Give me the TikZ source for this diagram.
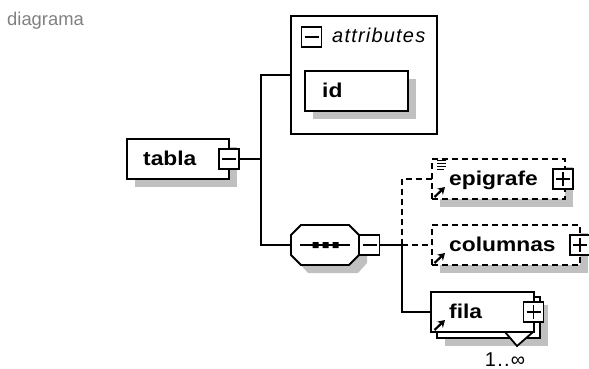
\documentclass[tikz,border=0pt]{standalone}
\usepackage{fontspec}
\setmainfont{Liberation Sans}
\newfontfamily\elemfont[FakeStretch=1.14]{Liberation Sans}
\usetikzlibrary{arrows.meta}
\definecolor{shadowgray}{HTML}{C0C0C0}
\definecolor{captiongray}{HTML}{808080}
\tikzset{
  line/.style={draw=black,line width=1.8pt},
  dashline/.style={line,dash pattern=on 6pt off 4pt},
  shadowed/.style={preaction={draw=none,fill=shadowgray,transform canvas={xshift=8pt,yshift=-8pt}}},
  box/.style={line,fill=white,rectangle,inner sep=0pt,anchor=north west,outer sep=0pt},
  shbox/.style={box,shadowed},
  dashbox/.style={shbox,dash pattern=on 6pt off 4pt},
  toggle/.style={line,fill=white,rectangle,inner sep=0pt,outer sep=0pt,minimum width=20pt,minimum height=20pt,anchor=center},
  togminus/.style={toggle,path picture={\draw[line width=1.4pt] ([xshift=3pt]path picture bounding box.west) -- ([xshift=-3pt]path picture bounding box.east);}},
  togplus/.style={togminus,path picture={\draw[line width=1.4pt] ([xshift=3pt]path picture bounding box.west) -- ([xshift=-3pt]path picture bounding box.east) ([yshift=-3pt]path picture bounding box.north) -- ([yshift=3pt]path picture bounding box.south);}},
  elemtext/.style={font=\elemfont\fontsize{20}{20}\selectfont\bfseries,anchor=base west,inner sep=0pt},
  smalltext/.style={anchor=base west,inner sep=0pt},
  refarrow/.style={line width=2.2pt,-{Stealth[length=7pt,width=8.5pt]}},
}
\begin{document}
\begin{tikzpicture}[x=1pt,y=-1pt]
\useasboundingbox (0,0) rectangle (589,369);
\node[smalltext,text=captiongray,font=\fontsize{18.4}{18.4}\selectfont] (cap) at (7,26) {diagrama};
% junctions
\coordinate (j1) at (261,159);
\coordinate (j2) at (402,245);
% attributes
\node[box,minimum width=146pt,minimum height=118pt] (attrs) at (291,16) {};
\node[togminus] (togA) at (311.5,37) {};
\node[smalltext,font=\fontsize{20}{20}\addfontfeature{LetterSpace=6}\selectfont\itshape] (attrlabel) at (332,43) {attributes};
\node[shbox,minimum width=103pt,minimum height=40pt] (idbox) at (305,71) {};
\node[elemtext] (idlabel) at (322,97) {id};
% tabla
\node[shbox,minimum width=102pt,minimum height=40pt] (tabla) at (127,139) {};
\node[elemtext] (tablalabel) at (143,165) {tabla};
\node[togminus] (togT) at (229,159) {};
% sequence
\path[fill=shadowgray] (308,233) -- (358,233) -- (367,243) -- (367,263) -- (358,273) -- (308,273) -- (299,263) -- cycle;
\node[minimum width=68pt,minimum height=40pt,inner sep=0pt,outer sep=0pt] (seq) at (325,245) {};
\draw[line,fill=white] (seq.west) -- ++(0,-10) -- ++(10,-10) -- ++(48,0) -- ++(10,10) -- ++(0,20) -- ++(-10,10) -- ++(-48,0) -- ++(-10,-10) -- cycle;
\draw[line width=1.4pt] (300,245) -- (350,245);
\fill (312.5,242) rectangle +(6,6) (322.5,242) rectangle +(6,6) (332.5,242) rectangle +(6,6);
\node[togminus] (togS) at (369.5,245) {};
% epigrafe
\node[dashbox,minimum width=133pt,minimum height=40pt] (epi) at (432,159) {};
\node[elemtext] (epilabel) at (449,185) {epigrafe};
\node[togplus] (togE) at (563,179) {};
\draw[line width=1pt] (437,160.5) -- (446,160.5) (437,163.5) -- (446,163.5) (437,166.5) -- (446,166.5) (437,169.5) -- (444,169.5);
\draw[refarrow] (434.5,197) -- (445,187);
% columnas
\node[dashbox,minimum width=148pt,minimum height=40pt] (col) at (432,225) {};
\node[elemtext] (collabel) at (449,251) {columnas};
\node[togplus] (togC) at (580,245) {};
\draw[refarrow] (434.5,263) -- (445,253);
% fila
\node[shbox,minimum width=103pt,minimum height=41pt] (filaback) at (437,297) {};
\draw[line,fill=white] (505,332) -- (517,346) -- (533,332) -- cycle;
\node[box,minimum width=103pt,minimum height=40pt] (fila) at (431,292) {};
\node[elemtext] (filalabel) at (449,318) {fila};
\node[togplus] (togF) at (533.5,312) {};
\draw[refarrow] (434.5,330) -- (445,320);
\node[smalltext,anchor=base,font=\fontsize{20}{20}\addfontfeature{LetterSpace=6}\selectfont] (occ) at (505,366) {1..∞};
% connectors
\draw[line] (togT.east) -- (j1);
\draw[line] (j1) |- (attrs.west);
\draw[line] (j1) |- (seq.west);
\draw[line] (togS.east) -- (j2);
\draw[dashline] (j2) |- (epi.west);
\draw[dashline] (j2) -- (col.west);
\draw[line] (j2) |- (fila.west);
\end{tikzpicture}
\end{document}
